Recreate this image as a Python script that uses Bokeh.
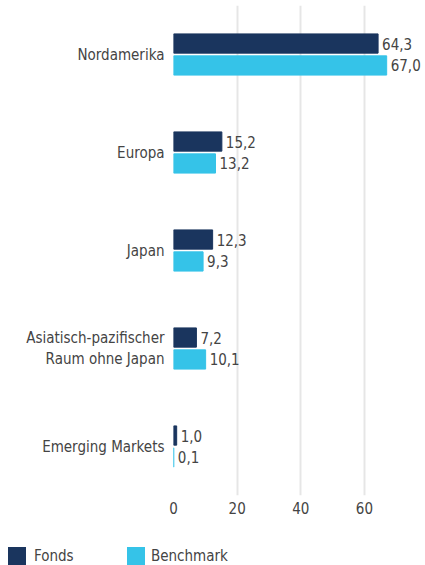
from bokeh.plotting import figure
from bokeh.models import ColumnDataSource, FactorRange, Range1d, FixedTicker, Div
from bokeh.layouts import column
from bokeh.transform import dodge
from bokeh.core.properties import value
from bokeh.embed import file_html
from bokeh.resources import INLINE

categories = ["Nordamerika", "Europa", "Japan", "Asiatisch-pazifischer\nRaum ohne Japan", "Emerging Markets"]
fonds = [64.3, 15.2, 12.3, 7.2, 1.0]
benchmark = [67.0, 13.2, 9.3, 10.1, 0.1]
x_ticks = [0, 20, 40, 60, 80]
series_names = ["Fonds", "Benchmark"]

FONT = "'Liberation Sans Narrow', 'DejaVu Sans Condensed', 'Roboto Condensed', sans-serif"
DARK = "#1a355e"
LIGHT = "#35c3e8"
TXT = "#444444"

def fmt(v):
    return f"{v:.1f}".replace(".", ",")

src = ColumnDataSource(dict(
    cat=categories,
    fonds=fonds,
    bench=benchmark,
    fonds_lbl=[fmt(v) for v in fonds],
    bench_lbl=[fmt(v) for v in benchmark],
))

p = figure(width=425, height=540, output_backend="svg", toolbar_location=None,
           y_range=FactorRange(*reversed(categories)), x_range=Range1d(0, 79.2),
           min_border_left=173, min_border_right=0, min_border_top=5, min_border_bottom=45)
p.outline_line_color = None
p.background_fill_color = "white"

off = 0.112
h = 0.196
p.hbar(y=dodge("cat", off, range=p.y_range), right="fonds", left=0, height=h,
       color=DARK, source=src)
p.hbar(y=dodge("cat", -off, range=p.y_range), right="bench", left=0, height=h,
       color=LIGHT, source=src)

p.text(x="fonds", y=dodge("cat", off, range=p.y_range), text="fonds_lbl", source=src,
       x_offset=4, text_baseline="middle", text_align="left",
       text_font=value(FONT), text_font_size="15px", text_color=TXT)
p.text(x="bench", y=dodge("cat", -off, range=p.y_range), text="bench_lbl", source=src,
       x_offset=4, text_baseline="middle", text_align="left",
       text_font=value(FONT), text_font_size="15px", text_color=TXT)

p.ygrid.grid_line_color = None
p.xgrid.grid_line_color = "#e6e6e6"
p.xgrid.grid_line_width = 2
p.xaxis.ticker = FixedTicker(ticks=x_ticks)

for ax in (p.xaxis[0], p.yaxis[0]):
    ax.axis_line_color = None
    ax.major_tick_line_color = None
    ax.minor_tick_line_color = None
    ax.major_label_text_font = FONT
    ax.major_label_text_font_size = "15px"
    ax.major_label_text_color = TXT
p.yaxis.major_label_standoff = 3
p.xaxis.major_label_standoff = 0

sq = "position:absolute;top:7px;width:18px;height:18px;"
lb = "position:absolute;top:6px;line-height:20px;"
legend_html = (
    f'<div style="position:relative;width:425px;height:25px;font-family:{FONT.replace(chr(39), "")};'
    f'font-size:15px;color:{TXT};">'
    f'<span style="{sq}left:8px;background:{DARK};"></span>'
    f'<span style="{lb}left:34px;">{series_names[0]}</span>'
    f'<span style="{sq}left:127px;background:{LIGHT};"></span>'
    f'<span style="{lb}left:151px;">{series_names[1]}</span>'
    '</div>'
)
leg = Div(text=legend_html, width=425, height=25, margin=(0, 0, 0, 0))

layout = column(p, leg, spacing=0)
open("out.html", "w").write(file_html(layout, INLINE))
